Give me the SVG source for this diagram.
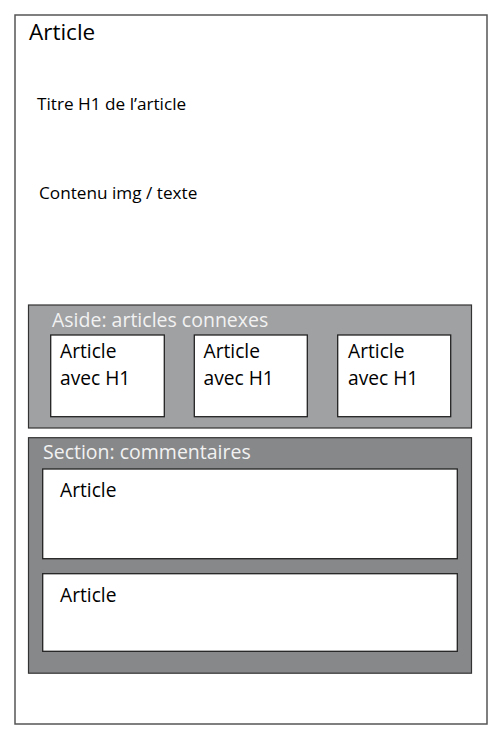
<svg xmlns="http://www.w3.org/2000/svg" width="500" height="738" viewBox="0 0 500 738">
<style>
text{font-family:"Open Sans","Liberation Sans",sans-serif;fill:#000}
.box{fill:#fff;stroke:#222;stroke-width:1.3}
.lbl{font-size:19.2px}
.hdr{font-size:19.5px;fill:#f2f2f2}
</style>
<rect width="500" height="738" fill="#fff"/>
<g id="article">
<rect x="15" y="15" width="472" height="709" fill="#fff" stroke="#555" stroke-width="1.5"/>
<text x="29" y="39.5" font-size="22.5">Article</text>
<text x="37" y="110" font-size="17.2">Titre H1 de l’article</text>
<text x="39" y="199" font-size="17.2">Contenu img / texte</text>
</g>
<g id="aside">
<rect x="28.5" y="305" width="443" height="123" fill="#a0a1a3" stroke="#333" stroke-width="1.2"/>
<text class="hdr" x="52" y="327">Aside: articles connexes</text>
<g id="aside-a1"><rect class="box" x="50.7" y="335" width="113.6" height="81.7"/><text class="lbl" x="60" y="358">Article</text><text class="lbl" x="60" y="385">avec H1</text></g>
<g id="aside-a2"><rect class="box" x="194.3" y="335" width="113" height="81.7"/><text class="lbl" x="203.5" y="358">Article</text><text class="lbl" x="203.5" y="385">avec H1</text></g>
<g id="aside-a3"><rect class="box" x="337.7" y="335" width="113" height="81.7"/><text class="lbl" x="348" y="358">Article</text><text class="lbl" x="348" y="385">avec H1</text></g>
</g>
<g id="section">
<rect x="28.5" y="437.7" width="443" height="235.5" fill="#87888a" stroke="#333" stroke-width="1.2"/>
<text class="hdr" x="43" y="459">Section: commentaires</text>
<g id="comment1"><rect class="box" x="42.7" y="469" width="414.6" height="89.7"/><text class="lbl" x="60" y="497">Article</text></g>
<g id="comment2"><rect class="box" x="42.7" y="573.7" width="414.6" height="77.6"/><text class="lbl" x="60" y="601.5">Article</text></g>
</g>
</svg>
